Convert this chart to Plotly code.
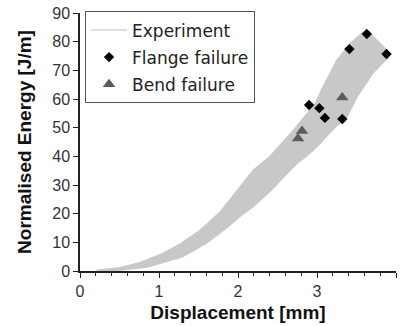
import plotly.graph_objects as go

# Experiment envelope (upper/left edge, then lower/right edge back down)
upper_x = [0.2, 0.5, 0.76, 1.03, 1.27, 1.52, 1.77, 1.99, 2.19, 2.4, 2.7, 2.98, 3.06, 3.25, 3.42, 3.58, 3.66]
upper_y = [0.3, 1.2, 3.0, 6.0, 9.5, 14.3, 20.6, 28.3, 35.2, 40.0, 49.2, 58.6, 63.5, 73.6, 79.5, 83.4, 83.5]
lower_x = [3.92, 3.9, 3.71, 3.51, 3.38, 3.2, 3.0, 2.87, 2.75, 2.57, 2.4, 2.2, 2.05, 1.86, 1.61, 1.30, 1.01, 0.85, 0.5, 0.25]
lower_y = [76.0, 74.3, 69.0, 60.7, 53.7, 49.2, 43.2, 40.0, 37.5, 32.5, 27.5, 22.5, 19.5, 15.0, 9.8, 4.9, 2.6, 1.3, 0.2, 0.0]

flange_x = [3.63, 3.41, 3.88, 2.90, 3.03, 3.10, 3.32]
flange_y = [82.7, 77.4, 75.7, 57.9, 56.8, 53.4, 53.0]

bend_x = [3.32, 2.81, 2.76]
bend_y = [60.5, 48.8, 46.2]

x_ticks = [0, 1, 2, 3, 4]
y_ticks = [0, 10, 20, 30, 40, 50, 60, 70, 80, 90]

band_color = "#c8c8c8"
tick_font = dict(family="Liberation Sans, Arial", size=16, color="#333333")
title_font = dict(family="Liberation Sans, Arial", size=19, color="#111111")

fig = go.Figure()
fig.add_trace(go.Scatter(
    x=upper_x + lower_x, y=upper_y + lower_y,
    fill="toself", fillcolor=band_color, mode="lines",
    line=dict(color=band_color, width=1), showlegend=False, hoverinfo="skip"))
fig.add_trace(go.Scatter(
    x=[None], y=[None], mode="lines", name="Experiment",
    line=dict(color="#d4d4d4", width=1.5), legendgroup="a"))
fig.add_trace(go.Scatter(
    x=flange_x, y=flange_y, mode="markers", name="Flange failure", cliponaxis=False,
    marker=dict(symbol="diamond", size=8, color="#000000"), legendgroup="b"))
fig.add_trace(go.Scatter(
    x=bend_x, y=bend_y, mode="markers", name="Bend failure", cliponaxis=False,
    marker=dict(symbol="triangle-up", size=11, color="#5c5c5c"), legendgroup="c"))

fig.update_layout(
    width=400, height=326,
    margin=dict(l=80, r=4, t=13, b=55),
    paper_bgcolor="white", plot_bgcolor="white",
    showlegend=True,
    legend=dict(
        x=0.016, y=1.006, xanchor="left", yanchor="top",
        bgcolor="white", bordercolor="#555555", borderwidth=1,
        font=dict(family="DejaVu Sans", size=17, color="#222222"),
        itemwidth=36, traceorder="grouped", tracegroupgap=2),
)
fig.update_xaxes(
    range=[0, 4], tickvals=x_ticks, ticktext=[str(v) for v in x_ticks],
    showline=True, linecolor="#222222", linewidth=1.5, automargin=False,
    ticks="outside", ticklen=5, tickcolor="#222222", tickfont=tick_font,
    minor=dict(dtick=0.2, ticks="outside", ticklen=3, tickcolor="#222222"),
    showgrid=False, zeroline=False,
    title=dict(text="<b>Displacement [mm]</b>", font=title_font, standoff=7))
fig.update_yaxes(
    range=[0, 90], tickvals=y_ticks, ticktext=[str(v) for v in y_ticks],
    showline=True, linecolor="#222222", linewidth=1.5, automargin=False,
    ticks="outside", ticklen=5, tickcolor="#222222", tickfont=tick_font,
    showgrid=False, zeroline=False,
    title=dict(text="<b>Normalised Energy [J/m]</b>", font=title_font, standoff=16))

fig.write_html("out.html", config={"displayModeBar": False},
               post_script="document.body.style.margin='0';")
